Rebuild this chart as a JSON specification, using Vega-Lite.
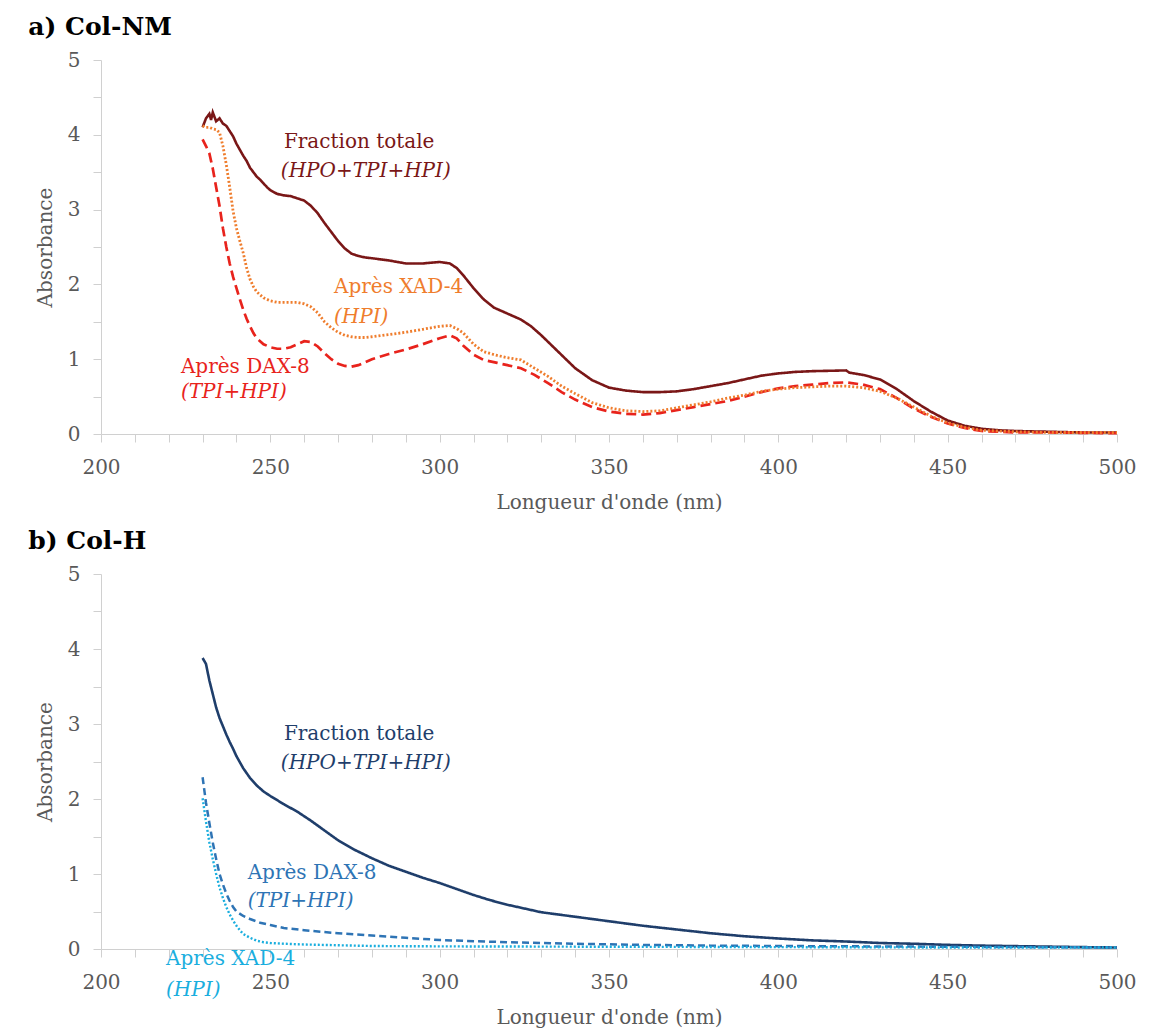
{
  "$schema": "https://vega.github.io/schema/vega-lite/v6.json",
  "padding": {"left": 28, "top": 15, "right": 10, "bottom": 2},
  "background": "white",
  "config": {
    "view": {"stroke": null},
    "font": "DejaVu Serif",
    "concat": {"spacing": 17},
    "axis": {
      "domainColor": "#d0d0d0", "tickColor": "#d0d0d0",
      "labelColor": "#595959", "titleColor": "#595959",
      "labelFont": "DejaVu Serif", "titleFont": "DejaVu Serif",
      "labelFontSize": 20, "titleFontSize": 20, "titleFontWeight": "normal",
      "grid": false, "tickSize": 8, "labelPadding": 13, "titlePadding": 12
    },
    "axisX": {"labelPadding": 15, "titlePadding": 15},
    "title": {"font": "DejaVu Serif", "fontSize": 25, "fontWeight": "bold", "color": "#000000", "anchor": "start", "frame": "bounds", "offset": 10}
  },
  "datasets": {
    "lines": [
      {"panel":"a","series":"A_total","nm":230,"abs":4.10},{"panel":"a","series":"A_total","nm":231,"abs":4.22},{"panel":"a","series":"A_total","nm":232,"abs":4.28},{"panel":"a","series":"A_total","nm":232.5,"abs":4.20},{"panel":"a","series":"A_total","nm":233,"abs":4.30},{"panel":"a","series":"A_total","nm":234,"abs":4.18},{"panel":"a","series":"A_total","nm":235,"abs":4.22},{"panel":"a","series":"A_total","nm":236,"abs":4.15},{"panel":"a","series":"A_total","nm":237,"abs":4.12},{"panel":"a","series":"A_total","nm":238,"abs":4.05},{"panel":"a","series":"A_total","nm":239,"abs":3.98},{"panel":"a","series":"A_total","nm":240,"abs":3.88},{"panel":"a","series":"A_total","nm":241,"abs":3.80},{"panel":"a","series":"A_total","nm":242,"abs":3.72},{"panel":"a","series":"A_total","nm":243,"abs":3.65},{"panel":"a","series":"A_total","nm":244,"abs":3.56},{"panel":"a","series":"A_total","nm":245,"abs":3.50},{"panel":"a","series":"A_total","nm":246,"abs":3.44},{"panel":"a","series":"A_total","nm":247,"abs":3.40},{"panel":"a","series":"A_total","nm":248,"abs":3.35},{"panel":"a","series":"A_total","nm":249,"abs":3.30},{"panel":"a","series":"A_total","nm":250,"abs":3.26},{"panel":"a","series":"A_total","nm":252,"abs":3.21},{"panel":"a","series":"A_total","nm":254,"abs":3.19},{"panel":"a","series":"A_total","nm":256,"abs":3.18},{"panel":"a","series":"A_total","nm":258,"abs":3.15},{"panel":"a","series":"A_total","nm":260,"abs":3.12},{"panel":"a","series":"A_total","nm":262,"abs":3.05},{"panel":"a","series":"A_total","nm":264,"abs":2.95},{"panel":"a","series":"A_total","nm":266,"abs":2.82},{"panel":"a","series":"A_total","nm":268,"abs":2.70},{"panel":"a","series":"A_total","nm":270,"abs":2.58},{"panel":"a","series":"A_total","nm":272,"abs":2.48},{"panel":"a","series":"A_total","nm":274,"abs":2.41},{"panel":"a","series":"A_total","nm":276,"abs":2.38},{"panel":"a","series":"A_total","nm":278,"abs":2.36},{"panel":"a","series":"A_total","nm":280,"abs":2.35},{"panel":"a","series":"A_total","nm":285,"abs":2.32},{"panel":"a","series":"A_total","nm":290,"abs":2.28},{"panel":"a","series":"A_total","nm":295,"abs":2.28},{"panel":"a","series":"A_total","nm":300,"abs":2.30},{"panel":"a","series":"A_total","nm":303,"abs":2.28},{"panel":"a","series":"A_total","nm":305,"abs":2.22},{"panel":"a","series":"A_total","nm":307,"abs":2.12},{"panel":"a","series":"A_total","nm":310,"abs":1.95},{"panel":"a","series":"A_total","nm":313,"abs":1.80},{"panel":"a","series":"A_total","nm":316,"abs":1.69},{"panel":"a","series":"A_total","nm":320,"abs":1.61},{"panel":"a","series":"A_total","nm":324,"abs":1.53},{"panel":"a","series":"A_total","nm":327,"abs":1.44},{"panel":"a","series":"A_total","nm":330,"abs":1.32},{"panel":"a","series":"A_total","nm":335,"abs":1.10},{"panel":"a","series":"A_total","nm":340,"abs":0.88},{"panel":"a","series":"A_total","nm":345,"abs":0.72},{"panel":"a","series":"A_total","nm":350,"abs":0.62},{"panel":"a","series":"A_total","nm":355,"abs":0.58},{"panel":"a","series":"A_total","nm":360,"abs":0.56},{"panel":"a","series":"A_total","nm":365,"abs":0.56},{"panel":"a","series":"A_total","nm":370,"abs":0.57},{"panel":"a","series":"A_total","nm":375,"abs":0.60},{"panel":"a","series":"A_total","nm":380,"abs":0.64},{"panel":"a","series":"A_total","nm":385,"abs":0.68},{"panel":"a","series":"A_total","nm":390,"abs":0.73},{"panel":"a","series":"A_total","nm":395,"abs":0.78},{"panel":"a","series":"A_total","nm":400,"abs":0.81},{"panel":"a","series":"A_total","nm":405,"abs":0.83},{"panel":"a","series":"A_total","nm":410,"abs":0.84},{"panel":"a","series":"A_total","nm":415,"abs":0.845},{"panel":"a","series":"A_total","nm":420,"abs":0.85},{"panel":"a","series":"A_total","nm":421,"abs":0.82},{"panel":"a","series":"A_total","nm":425,"abs":0.79},{"panel":"a","series":"A_total","nm":430,"abs":0.73},{"panel":"a","series":"A_total","nm":435,"abs":0.60},{"panel":"a","series":"A_total","nm":440,"abs":0.44},{"panel":"a","series":"A_total","nm":445,"abs":0.30},{"panel":"a","series":"A_total","nm":450,"abs":0.18},{"panel":"a","series":"A_total","nm":455,"abs":0.11},{"panel":"a","series":"A_total","nm":460,"abs":0.07},{"panel":"a","series":"A_total","nm":465,"abs":0.05},{"panel":"a","series":"A_total","nm":470,"abs":0.04},{"panel":"a","series":"A_total","nm":480,"abs":0.03},{"panel":"a","series":"A_total","nm":490,"abs":0.02},{"panel":"a","series":"A_total","nm":500,"abs":0.02},

      {"panel":"a","series":"A_dax","nm":230,"abs":3.94},{"panel":"a","series":"A_dax","nm":231,"abs":3.85},{"panel":"a","series":"A_dax","nm":232,"abs":3.75},{"panel":"a","series":"A_dax","nm":233,"abs":3.55},{"panel":"a","series":"A_dax","nm":234,"abs":3.30},{"panel":"a","series":"A_dax","nm":235,"abs":3.05},{"panel":"a","series":"A_dax","nm":236,"abs":2.75},{"panel":"a","series":"A_dax","nm":237,"abs":2.50},{"panel":"a","series":"A_dax","nm":238,"abs":2.28},{"panel":"a","series":"A_dax","nm":239,"abs":2.10},{"panel":"a","series":"A_dax","nm":240,"abs":1.95},{"panel":"a","series":"A_dax","nm":241,"abs":1.80},{"panel":"a","series":"A_dax","nm":242,"abs":1.66},{"panel":"a","series":"A_dax","nm":243,"abs":1.54},{"panel":"a","series":"A_dax","nm":244,"abs":1.44},{"panel":"a","series":"A_dax","nm":245,"abs":1.35},{"panel":"a","series":"A_dax","nm":246,"abs":1.28},{"panel":"a","series":"A_dax","nm":248,"abs":1.20},{"panel":"a","series":"A_dax","nm":250,"abs":1.16},{"panel":"a","series":"A_dax","nm":252,"abs":1.14},{"panel":"a","series":"A_dax","nm":254,"abs":1.14},{"panel":"a","series":"A_dax","nm":256,"abs":1.16},{"panel":"a","series":"A_dax","nm":258,"abs":1.20},{"panel":"a","series":"A_dax","nm":260,"abs":1.24},{"panel":"a","series":"A_dax","nm":262,"abs":1.23},{"panel":"a","series":"A_dax","nm":264,"abs":1.17},{"panel":"a","series":"A_dax","nm":266,"abs":1.08},{"panel":"a","series":"A_dax","nm":268,"abs":1.00},{"panel":"a","series":"A_dax","nm":270,"abs":0.94},{"panel":"a","series":"A_dax","nm":272,"abs":0.91},{"panel":"a","series":"A_dax","nm":274,"abs":0.90},{"panel":"a","series":"A_dax","nm":276,"abs":0.92},{"panel":"a","series":"A_dax","nm":278,"abs":0.96},{"panel":"a","series":"A_dax","nm":280,"abs":1.00},{"panel":"a","series":"A_dax","nm":285,"abs":1.07},{"panel":"a","series":"A_dax","nm":290,"abs":1.13},{"panel":"a","series":"A_dax","nm":295,"abs":1.20},{"panel":"a","series":"A_dax","nm":300,"abs":1.28},{"panel":"a","series":"A_dax","nm":303,"abs":1.32},{"panel":"a","series":"A_dax","nm":305,"abs":1.28},{"panel":"a","series":"A_dax","nm":307,"abs":1.18},{"panel":"a","series":"A_dax","nm":310,"abs":1.06},{"panel":"a","series":"A_dax","nm":313,"abs":0.99},{"panel":"a","series":"A_dax","nm":317,"abs":0.95},{"panel":"a","series":"A_dax","nm":320,"abs":0.92},{"panel":"a","series":"A_dax","nm":324,"abs":0.88},{"panel":"a","series":"A_dax","nm":328,"abs":0.79},{"panel":"a","series":"A_dax","nm":332,"abs":0.68},{"panel":"a","series":"A_dax","nm":336,"abs":0.56},{"panel":"a","series":"A_dax","nm":340,"abs":0.46},{"panel":"a","series":"A_dax","nm":345,"abs":0.36},{"panel":"a","series":"A_dax","nm":350,"abs":0.30},{"panel":"a","series":"A_dax","nm":355,"abs":0.27},{"panel":"a","series":"A_dax","nm":360,"abs":0.26},{"panel":"a","series":"A_dax","nm":365,"abs":0.28},{"panel":"a","series":"A_dax","nm":370,"abs":0.32},{"panel":"a","series":"A_dax","nm":375,"abs":0.36},{"panel":"a","series":"A_dax","nm":380,"abs":0.40},{"panel":"a","series":"A_dax","nm":385,"abs":0.44},{"panel":"a","series":"A_dax","nm":390,"abs":0.50},{"panel":"a","series":"A_dax","nm":395,"abs":0.56},{"panel":"a","series":"A_dax","nm":400,"abs":0.61},{"panel":"a","series":"A_dax","nm":405,"abs":0.64},{"panel":"a","series":"A_dax","nm":410,"abs":0.66},{"panel":"a","series":"A_dax","nm":415,"abs":0.68},{"panel":"a","series":"A_dax","nm":420,"abs":0.69},{"panel":"a","series":"A_dax","nm":425,"abs":0.66},{"panel":"a","series":"A_dax","nm":430,"abs":0.60},{"panel":"a","series":"A_dax","nm":435,"abs":0.48},{"panel":"a","series":"A_dax","nm":440,"abs":0.34},{"panel":"a","series":"A_dax","nm":445,"abs":0.23},{"panel":"a","series":"A_dax","nm":450,"abs":0.14},{"panel":"a","series":"A_dax","nm":455,"abs":0.08},{"panel":"a","series":"A_dax","nm":460,"abs":0.04},{"panel":"a","series":"A_dax","nm":470,"abs":0.02},{"panel":"a","series":"A_dax","nm":480,"abs":0.02},{"panel":"a","series":"A_dax","nm":500,"abs":0.01},

      {"panel":"a","series":"A_xad","nm":230,"abs":4.12},{"panel":"a","series":"A_xad","nm":231,"abs":4.10},{"panel":"a","series":"A_xad","nm":232,"abs":4.10},{"panel":"a","series":"A_xad","nm":233,"abs":4.08},{"panel":"a","series":"A_xad","nm":234,"abs":4.07},{"panel":"a","series":"A_xad","nm":235,"abs":4.03},{"panel":"a","series":"A_xad","nm":236,"abs":3.85},{"panel":"a","series":"A_xad","nm":237,"abs":3.60},{"panel":"a","series":"A_xad","nm":238,"abs":3.30},{"panel":"a","series":"A_xad","nm":239,"abs":2.98},{"panel":"a","series":"A_xad","nm":240,"abs":2.75},{"panel":"a","series":"A_xad","nm":241,"abs":2.58},{"panel":"a","series":"A_xad","nm":242,"abs":2.42},{"panel":"a","series":"A_xad","nm":243,"abs":2.22},{"panel":"a","series":"A_xad","nm":244,"abs":2.07},{"panel":"a","series":"A_xad","nm":245,"abs":1.97},{"panel":"a","series":"A_xad","nm":246,"abs":1.90},{"panel":"a","series":"A_xad","nm":248,"abs":1.82},{"panel":"a","series":"A_xad","nm":250,"abs":1.78},{"panel":"a","series":"A_xad","nm":252,"abs":1.76},{"panel":"a","series":"A_xad","nm":254,"abs":1.76},{"panel":"a","series":"A_xad","nm":256,"abs":1.76},{"panel":"a","series":"A_xad","nm":258,"abs":1.76},{"panel":"a","series":"A_xad","nm":260,"abs":1.74},{"panel":"a","series":"A_xad","nm":262,"abs":1.70},{"panel":"a","series":"A_xad","nm":264,"abs":1.62},{"panel":"a","series":"A_xad","nm":266,"abs":1.50},{"panel":"a","series":"A_xad","nm":268,"abs":1.42},{"panel":"a","series":"A_xad","nm":270,"abs":1.36},{"panel":"a","series":"A_xad","nm":272,"abs":1.32},{"panel":"a","series":"A_xad","nm":274,"abs":1.30},{"panel":"a","series":"A_xad","nm":276,"abs":1.29},{"panel":"a","series":"A_xad","nm":278,"abs":1.29},{"panel":"a","series":"A_xad","nm":280,"abs":1.30},{"panel":"a","series":"A_xad","nm":285,"abs":1.33},{"panel":"a","series":"A_xad","nm":290,"abs":1.36},{"panel":"a","series":"A_xad","nm":295,"abs":1.40},{"panel":"a","series":"A_xad","nm":300,"abs":1.44},{"panel":"a","series":"A_xad","nm":303,"abs":1.45},{"panel":"a","series":"A_xad","nm":305,"abs":1.41},{"panel":"a","series":"A_xad","nm":307,"abs":1.35},{"panel":"a","series":"A_xad","nm":310,"abs":1.20},{"panel":"a","series":"A_xad","nm":313,"abs":1.10},{"panel":"a","series":"A_xad","nm":317,"abs":1.05},{"panel":"a","series":"A_xad","nm":320,"abs":1.02},{"panel":"a","series":"A_xad","nm":324,"abs":0.99},{"panel":"a","series":"A_xad","nm":328,"abs":0.88},{"panel":"a","series":"A_xad","nm":332,"abs":0.77},{"panel":"a","series":"A_xad","nm":336,"abs":0.64},{"panel":"a","series":"A_xad","nm":340,"abs":0.54},{"panel":"a","series":"A_xad","nm":345,"abs":0.42},{"panel":"a","series":"A_xad","nm":350,"abs":0.35},{"panel":"a","series":"A_xad","nm":355,"abs":0.31},{"panel":"a","series":"A_xad","nm":360,"abs":0.30},{"panel":"a","series":"A_xad","nm":365,"abs":0.31},{"panel":"a","series":"A_xad","nm":370,"abs":0.35},{"panel":"a","series":"A_xad","nm":375,"abs":0.39},{"panel":"a","series":"A_xad","nm":380,"abs":0.43},{"panel":"a","series":"A_xad","nm":385,"abs":0.48},{"panel":"a","series":"A_xad","nm":390,"abs":0.52},{"panel":"a","series":"A_xad","nm":395,"abs":0.57},{"panel":"a","series":"A_xad","nm":400,"abs":0.60},{"panel":"a","series":"A_xad","nm":405,"abs":0.62},{"panel":"a","series":"A_xad","nm":410,"abs":0.63},{"panel":"a","series":"A_xad","nm":415,"abs":0.64},{"panel":"a","series":"A_xad","nm":420,"abs":0.64},{"panel":"a","series":"A_xad","nm":425,"abs":0.62},{"panel":"a","series":"A_xad","nm":430,"abs":0.57},{"panel":"a","series":"A_xad","nm":435,"abs":0.48},{"panel":"a","series":"A_xad","nm":440,"abs":0.36},{"panel":"a","series":"A_xad","nm":445,"abs":0.24},{"panel":"a","series":"A_xad","nm":450,"abs":0.15},{"panel":"a","series":"A_xad","nm":455,"abs":0.09},{"panel":"a","series":"A_xad","nm":460,"abs":0.05},{"panel":"a","series":"A_xad","nm":470,"abs":0.03},{"panel":"a","series":"A_xad","nm":480,"abs":0.02},{"panel":"a","series":"A_xad","nm":500,"abs":0.02},

      {"panel":"b","series":"B_total","nm":230,"abs":3.88},{"panel":"b","series":"B_total","nm":231,"abs":3.80},{"panel":"b","series":"B_total","nm":232,"abs":3.58},{"panel":"b","series":"B_total","nm":233,"abs":3.40},{"panel":"b","series":"B_total","nm":234,"abs":3.22},{"panel":"b","series":"B_total","nm":235,"abs":3.08},{"panel":"b","series":"B_total","nm":236,"abs":2.97},{"panel":"b","series":"B_total","nm":237,"abs":2.86},{"panel":"b","series":"B_total","nm":238,"abs":2.76},{"panel":"b","series":"B_total","nm":239,"abs":2.67},{"panel":"b","series":"B_total","nm":240,"abs":2.57},{"panel":"b","series":"B_total","nm":242,"abs":2.41},{"panel":"b","series":"B_total","nm":244,"abs":2.28},{"panel":"b","series":"B_total","nm":246,"abs":2.18},{"panel":"b","series":"B_total","nm":248,"abs":2.10},{"panel":"b","series":"B_total","nm":250,"abs":2.04},{"panel":"b","series":"B_total","nm":254,"abs":1.93},{"panel":"b","series":"B_total","nm":258,"abs":1.83},{"panel":"b","series":"B_total","nm":262,"abs":1.71},{"panel":"b","series":"B_total","nm":266,"abs":1.58},{"panel":"b","series":"B_total","nm":270,"abs":1.45},{"panel":"b","series":"B_total","nm":275,"abs":1.32},{"panel":"b","series":"B_total","nm":280,"abs":1.21},{"panel":"b","series":"B_total","nm":285,"abs":1.11},{"panel":"b","series":"B_total","nm":290,"abs":1.03},{"panel":"b","series":"B_total","nm":295,"abs":0.95},{"panel":"b","series":"B_total","nm":300,"abs":0.88},{"panel":"b","series":"B_total","nm":305,"abs":0.80},{"panel":"b","series":"B_total","nm":310,"abs":0.72},{"panel":"b","series":"B_total","nm":315,"abs":0.65},{"panel":"b","series":"B_total","nm":320,"abs":0.59},{"panel":"b","series":"B_total","nm":325,"abs":0.54},{"panel":"b","series":"B_total","nm":330,"abs":0.49},{"panel":"b","series":"B_total","nm":340,"abs":0.43},{"panel":"b","series":"B_total","nm":350,"abs":0.37},{"panel":"b","series":"B_total","nm":360,"abs":0.31},{"panel":"b","series":"B_total","nm":370,"abs":0.26},{"panel":"b","series":"B_total","nm":380,"abs":0.21},{"panel":"b","series":"B_total","nm":390,"abs":0.17},{"panel":"b","series":"B_total","nm":400,"abs":0.14},{"panel":"b","series":"B_total","nm":410,"abs":0.115},{"panel":"b","series":"B_total","nm":420,"abs":0.10},{"panel":"b","series":"B_total","nm":430,"abs":0.08},{"panel":"b","series":"B_total","nm":440,"abs":0.07},{"panel":"b","series":"B_total","nm":450,"abs":0.055},{"panel":"b","series":"B_total","nm":460,"abs":0.045},{"panel":"b","series":"B_total","nm":475,"abs":0.035},{"panel":"b","series":"B_total","nm":490,"abs":0.025},{"panel":"b","series":"B_total","nm":500,"abs":0.02},

      {"panel":"b","series":"B_dax","nm":230,"abs":2.29},{"panel":"b","series":"B_dax","nm":231,"abs":1.95},{"panel":"b","series":"B_dax","nm":232,"abs":1.68},{"panel":"b","series":"B_dax","nm":233,"abs":1.42},{"panel":"b","series":"B_dax","nm":234,"abs":1.20},{"panel":"b","series":"B_dax","nm":235,"abs":1.00},{"panel":"b","series":"B_dax","nm":236,"abs":0.86},{"panel":"b","series":"B_dax","nm":237,"abs":0.74},{"panel":"b","series":"B_dax","nm":238,"abs":0.64},{"panel":"b","series":"B_dax","nm":239,"abs":0.56},{"panel":"b","series":"B_dax","nm":240,"abs":0.50},{"panel":"b","series":"B_dax","nm":242,"abs":0.44},{"panel":"b","series":"B_dax","nm":244,"abs":0.40},{"panel":"b","series":"B_dax","nm":247,"abs":0.35},{"panel":"b","series":"B_dax","nm":250,"abs":0.32},{"panel":"b","series":"B_dax","nm":254,"abs":0.28},{"panel":"b","series":"B_dax","nm":260,"abs":0.25},{"panel":"b","series":"B_dax","nm":270,"abs":0.21},{"panel":"b","series":"B_dax","nm":280,"abs":0.18},{"panel":"b","series":"B_dax","nm":290,"abs":0.15},{"panel":"b","series":"B_dax","nm":300,"abs":0.12},{"panel":"b","series":"B_dax","nm":320,"abs":0.09},{"panel":"b","series":"B_dax","nm":340,"abs":0.07},{"panel":"b","series":"B_dax","nm":360,"abs":0.055},{"panel":"b","series":"B_dax","nm":380,"abs":0.045},{"panel":"b","series":"B_dax","nm":400,"abs":0.04},{"panel":"b","series":"B_dax","nm":450,"abs":0.03},{"panel":"b","series":"B_dax","nm":500,"abs":0.02},

      {"panel":"b","series":"B_xad","nm":230,"abs":2.01},{"panel":"b","series":"B_xad","nm":231,"abs":1.70},{"panel":"b","series":"B_xad","nm":232,"abs":1.42},{"panel":"b","series":"B_xad","nm":233,"abs":1.20},{"panel":"b","series":"B_xad","nm":234,"abs":1.00},{"panel":"b","series":"B_xad","nm":235,"abs":0.82},{"panel":"b","series":"B_xad","nm":236,"abs":0.68},{"panel":"b","series":"B_xad","nm":237,"abs":0.56},{"panel":"b","series":"B_xad","nm":238,"abs":0.46},{"panel":"b","series":"B_xad","nm":239,"abs":0.38},{"panel":"b","series":"B_xad","nm":240,"abs":0.31},{"panel":"b","series":"B_xad","nm":241,"abs":0.25},{"panel":"b","series":"B_xad","nm":242,"abs":0.20},{"panel":"b","series":"B_xad","nm":244,"abs":0.15},{"panel":"b","series":"B_xad","nm":246,"abs":0.11},{"panel":"b","series":"B_xad","nm":248,"abs":0.09},{"panel":"b","series":"B_xad","nm":250,"abs":0.08},{"panel":"b","series":"B_xad","nm":254,"abs":0.07},{"panel":"b","series":"B_xad","nm":260,"abs":0.06},{"panel":"b","series":"B_xad","nm":280,"abs":0.04},{"panel":"b","series":"B_xad","nm":300,"abs":0.035},{"panel":"b","series":"B_xad","nm":350,"abs":0.03},{"panel":"b","series":"B_xad","nm":400,"abs":0.025},{"panel":"b","series":"B_xad","nm":450,"abs":0.02},{"panel":"b","series":"B_xad","nm":500,"abs":0.02}
    ],
    "labels": [
      {"panel":"a","series":"A_total","line":1,"nm":254.0,"abs":3.90,"text":"Fraction totale"},
      {"panel":"a","series":"A_total","line":2,"nm":253.1,"abs":3.51,"text":"(HPO+TPI+HPI)"},
      {"panel":"a","series":"A_xad","line":1,"nm":268.8,"abs":1.97,"text":"Après XAD-4"},
      {"panel":"a","series":"A_xad","line":2,"nm":268.8,"abs":1.57,"text":"(HPI)"},
      {"panel":"a","series":"A_dax","line":1,"nm":223.6,"abs":0.90,"text":"Après DAX-8"},
      {"panel":"a","series":"A_dax","line":2,"nm":223.6,"abs":0.56,"text":"(TPI+HPI)"},
      {"panel":"b","series":"B_total","line":1,"nm":254.0,"abs":2.87,"text":"Fraction totale"},
      {"panel":"b","series":"B_total","line":2,"nm":253.1,"abs":2.48,"text":"(HPO+TPI+HPI)"},
      {"panel":"b","series":"B_dax","line":1,"nm":243.3,"abs":1.02,"text":"Après DAX-8"},
      {"panel":"b","series":"B_dax","line":2,"nm":243.3,"abs":0.64,"text":"(TPI+HPI)"},
      {"panel":"b","series":"B_xad","line":1,"nm":219.2,"abs":-0.13,"text":"Après XAD-4"},
      {"panel":"b","series":"B_xad","line":2,"nm":219.2,"abs":-0.54,"text":"(HPI)"}
    ]
  },
  "vconcat": [
    {
      "title": {"text": "a) Col-NM", "dx": -7},
      "width": 1016, "height": 374,
      "encoding": {
        "x": {"field": "nm", "type": "quantitative", "scale": {"domain": [200, 500], "nice": false, "zero": false},
              "axis": {"title": "Longueur d'onde (nm)", "values": [200,210,220,230,240,250,260,270,280,290,300,310,320,330,340,350,360,370,380,390,400,410,420,430,440,450,460,470,480,490,500], "labelExpr": "datum.value % 50 === 0 ? datum.label : ''", "labelOverlap": false, "labelFlush": false}},
        "y": {"field": "abs", "type": "quantitative", "scale": {"domain": [0, 5], "nice": false},
              "axis": {"title": "Absorbance", "values": [0,0.5,1,1.5,2,2.5,3,3.5,4,4.5,5], "format": "~g", "labelExpr": "datum.value % 1 === 0 ? datum.label : ''", "labelOverlap": false}},
        "color": {"field": "series", "type": "nominal", "legend": null,
                  "scale": {"domain": ["A_total","A_dax","A_xad","B_total","B_dax","B_xad"], "range": ["#7a1717","#e8231c","#ef7d2d","#1f3e6b","#2e74b5","#1aaede"]}}
      },
      "layer": [
        {
          "data": {"name": "lines"},
          "transform": [{"filter": "datum.panel === 'a'"}],
          "mark": {"type": "line", "strokeCap": "butt"},
          "encoding": {
            "detail": {"field": "series"},
            "strokeDash": {"field": "series", "type": "nominal", "legend": null,
                           "scale": {"domain": ["A_total","A_dax","A_xad"], "range": [[1,0],[10,5],[2,2]]}},
            "strokeWidth": {"field": "series", "type": "nominal", "legend": null,
                            "scale": {"domain": ["A_total","A_dax","A_xad"], "range": [2.6, 2.8, 2]}}
          }
        },
        {
          "data": {"name": "labels"},
          "transform": [{"filter": "datum.panel === 'a' && datum.line === 1"}],
          "mark": {"type": "text", "align": "left", "baseline": "middle", "fontSize": 20, "font": "DejaVu Serif"},
          "encoding": {"text": {"field": "text"}}
        },
        {
          "data": {"name": "labels"},
          "transform": [{"filter": "datum.panel === 'a' && datum.line === 2"}],
          "mark": {"type": "text", "align": "left", "baseline": "middle", "fontSize": 20, "fontStyle": "italic", "font": "DejaVu Serif"},
          "encoding": {"text": {"field": "text"}}
        }
      ]
    },
    {
      "title": {"text": "b) Col-H", "dx": -7},
      "width": 1016, "height": 375,
      "encoding": {
        "x": {"field": "nm", "type": "quantitative", "scale": {"domain": [200, 500], "nice": false, "zero": false},
              "axis": {"title": "Longueur d'onde (nm)", "values": [200,210,220,230,240,250,260,270,280,290,300,310,320,330,340,350,360,370,380,390,400,410,420,430,440,450,460,470,480,490,500], "labelExpr": "datum.value % 50 === 0 ? datum.label : ''", "labelOverlap": false, "labelFlush": false}},
        "y": {"field": "abs", "type": "quantitative", "scale": {"domain": [0, 5], "nice": false},
              "axis": {"title": "Absorbance", "values": [0,0.5,1,1.5,2,2.5,3,3.5,4,4.5,5], "format": "~g", "labelExpr": "datum.value % 1 === 0 ? datum.label : ''", "labelOverlap": false}},
        "color": {"field": "series", "type": "nominal", "legend": null,
                  "scale": {"domain": ["A_total","A_dax","A_xad","B_total","B_dax","B_xad"], "range": ["#7a1717","#e8231c","#ef7d2d","#1f3e6b","#2e74b5","#1aaede"]}}
      },
      "layer": [
        {
          "data": {"name": "lines"},
          "transform": [{"filter": "datum.panel === 'b'"}],
          "mark": {"type": "line", "strokeCap": "butt"},
          "encoding": {
            "detail": {"field": "series"},
            "strokeDash": {"field": "series", "type": "nominal", "legend": null,
                           "scale": {"domain": ["B_total","B_dax","B_xad"], "range": [[1,0],[7,4],[2,2]]}},
            "strokeWidth": {"field": "series", "type": "nominal", "legend": null,
                            "scale": {"domain": ["B_total","B_dax","B_xad"], "range": [2.6, 2.4, 1.8]}}
          }
        },
        {
          "data": {"name": "labels"},
          "transform": [{"filter": "datum.panel === 'b' && datum.line === 1"}],
          "mark": {"type": "text", "align": "left", "baseline": "middle", "fontSize": 20, "font": "DejaVu Serif"},
          "encoding": {"text": {"field": "text"}}
        },
        {
          "data": {"name": "labels"},
          "transform": [{"filter": "datum.panel === 'b' && datum.line === 2"}],
          "mark": {"type": "text", "align": "left", "baseline": "middle", "fontSize": 20, "fontStyle": "italic", "font": "DejaVu Serif"},
          "encoding": {"text": {"field": "text"}}
        }
      ]
    }
  ],
  "resolve": {"scale": {"strokeDash": "independent", "strokeWidth": "independent"}}
}
